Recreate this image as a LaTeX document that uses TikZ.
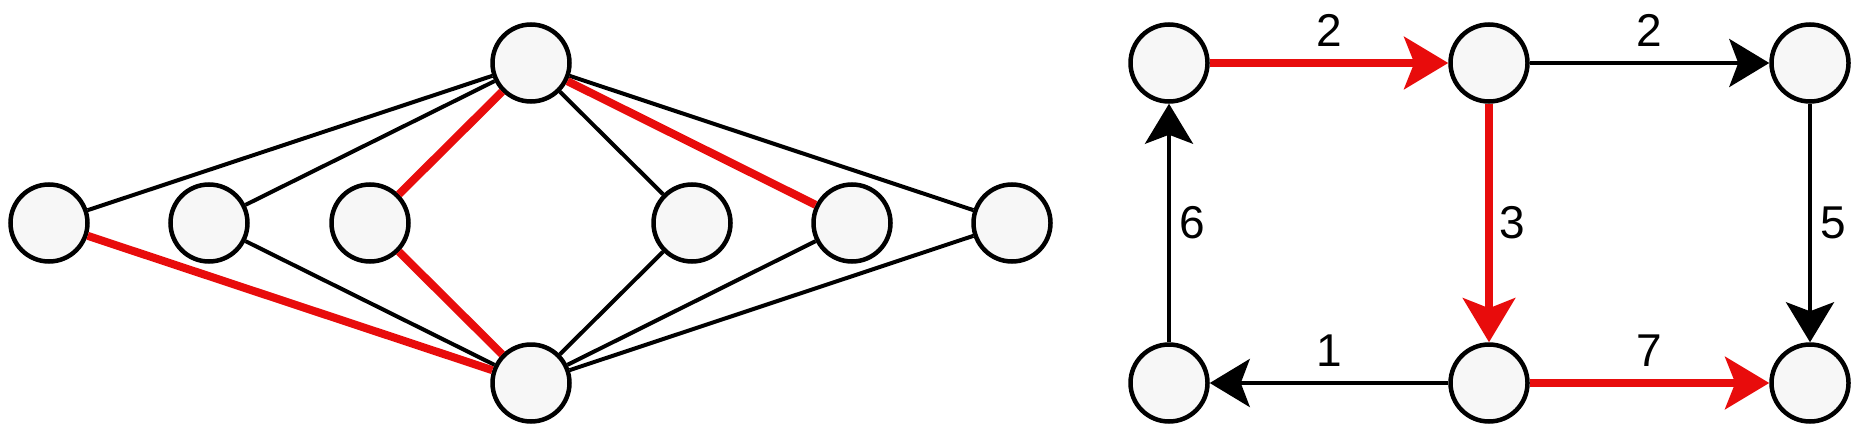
\documentclass[tikz,border=0pt]{standalone}
\usepackage{fontspec}
\setmainfont{Liberation Sans}
\usetikzlibrary{positioning, arrows.meta}
\definecolor{rojo}{RGB}{232,12,12}
\definecolor{relleno}{RGB}{247,247,247}
\tikzset{arista/.style={line width=2pt}}
\tikzset{aristaroja/.style={line width=4pt,color=rojo}}
\tikzset{flecha/.style={-{Stealth[length=20pt,width=24pt,inset=4.5pt]}}}
\tikzset{flecharoja/.style={-{Stealth[length=22pt,width=26pt,inset=5pt]}}}
\tikzset{ulabel/.style={midway,above=7pt,draw=none,fill=none,rectangle,minimum size=0pt,inner sep=0pt}}
\tikzset{rlabel/.style={midway,right=4pt,draw=none,fill=none,rectangle,minimum size=0pt,inner sep=0pt}}

\begin{document}
\begin{tikzpicture}[
                x = 1pt, y = 1pt, on grid,
                every node/.style={draw,circle,fill=relleno,line width=2.25pt,minimum size=38.5pt,
                                   font=\fontsize{23}{27}\selectfont}
            ]
                \useasboundingbox (0,0) rectangle (936,-222);

                % grafo de la izquierda
                \node[](izq) at (24.5,-111.5) {};
                \node[right= 80pt of izq] (v1) {};
                \node[right= 80.5pt of v1] (v2) {};
                \node[right= 161pt of v2] (v3) {};
                \node[right= 80pt of v3] (v4) {};
                \node[right= 80pt of v4] (der) {};
                \node[](sup) at (265.5,-31.5) {};
                \node[](inf) at (265.5,-191.5) {};

                \draw[arista] (izq) -- (sup);
                \draw[arista] (v1) -- (sup);
                \draw[arista] (v1) -- (inf);
                \draw[arista] (v3) -- (sup);
                \draw[arista] (v3) -- (inf);
                \draw[arista] (v4) -- (inf);
                \draw[arista] (der) -- (sup);
                \draw[arista] (der) -- (inf);
                \draw[aristaroja] (izq) -- (inf);
                \draw[aristaroja] (v2) -- (sup);
                \draw[aristaroja] (v2) -- (inf);
                \draw[aristaroja] (v4) -- (sup);

                % grafo dirigido de la derecha
                \node[](r11) at (584.5,-31.5) {};
                \node[right= 160pt of r11] (r12) {};
                \node[right= 160.5pt of r12] (r13) {};
                \node[below= 160pt of r11] (r21) {};
                \node[below= 160pt of r12] (r22) {};
                \node[below= 160pt of r13] (r23) {};

                \draw[arista, flecha] (r12) to [] node[ulabel]{2} (r13);
                \draw[arista, flecha] (r13) to [] node[rlabel]{5} (r23);
                \draw[arista, flecha] (r22) to [] node[ulabel]{1} (r21);
                \draw[arista, flecha] (r21) to [] node[rlabel]{6} (r11);
                \draw[aristaroja, flecharoja] (r11) to [] node[ulabel, text=black]{2} (r12);
                \draw[aristaroja, flecharoja] (r12) to [] node[rlabel, text=black]{3} (r22);
                \draw[aristaroja, flecharoja] (r22) to [] node[ulabel, text=black]{7} (r23);
            \end{tikzpicture}
\end{document}
